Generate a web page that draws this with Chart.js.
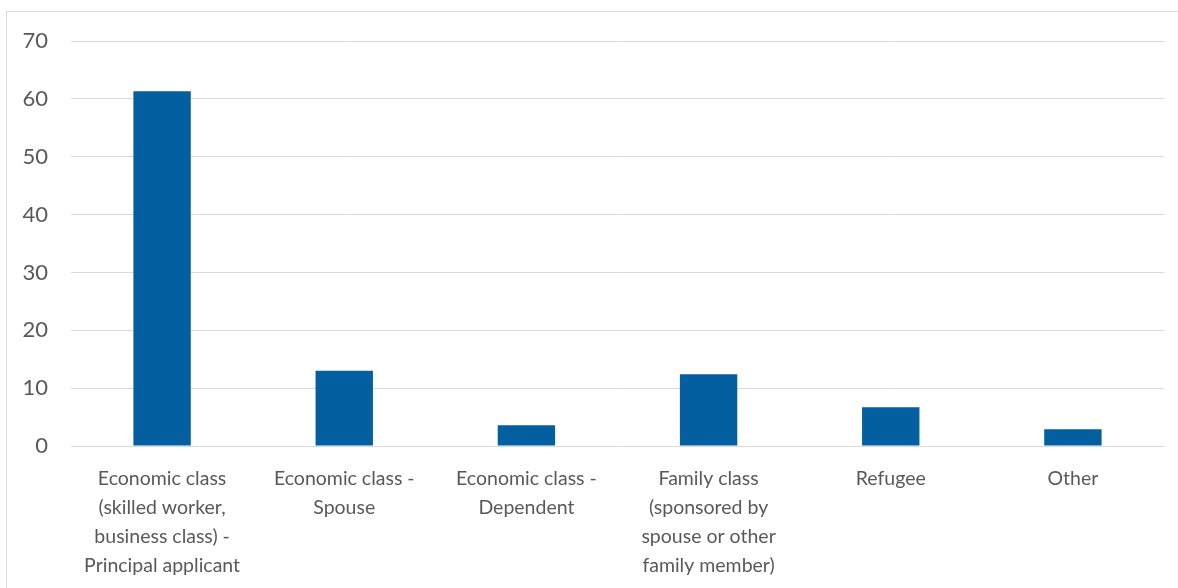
<!DOCTYPE html>
<html>
<head>
<meta charset="utf-8">
<script src="https://cdn.jsdelivr.net/npm/chart.js@4/dist/chart.umd.min.js"></script>
<style>
  html, body { margin: 0; padding: 0; background: #fff; overflow: hidden; }
  .frame { position: absolute; left: 6px; top: 11px; width: 1200px; height: 600px; border: 1px solid #d9d9d9; box-sizing: border-box; }
  .wrap { position: absolute; left: 0; top: 0; width: 1178px; height: 588px; }
</style>
</head>
<body>
<div class="frame"></div>
<div class="wrap"><canvas id="chart"></canvas></div>
<script>
const categories = [
  ['Economic class', '(skilled worker,', 'business class) -', 'Principal applicant'],
  ['Economic class -', 'Spouse'],
  ['Economic class -', 'Dependent'],
  ['Family class', '(sponsored by', 'spouse or other', 'family member)'],
  'Refugee',
  'Other'
];
const shares = [61.3, 13.0, 3.6, 12.4, 6.7, 2.9];
const yTicks = [0, 10, 20, 30, 40, 50, 60, 70];

const BAR_BLUE = '#035FA0';
const GRID = '#d9d9d9';
const LABEL = '#595959';

const ctx = document.getElementById('chart').getContext('2d');
new Chart(ctx, {
  type: 'bar',
  data: {
    labels: categories,
    datasets: [{
      data: shares,
      backgroundColor: BAR_BLUE,
      categoryPercentage: 1,
      barPercentage: 0.315
    }]
  },
  options: {
    responsive: true,
    maintainAspectRatio: false,
    animation: false,
    layout: { padding: { top: 41, right: 14, left: 0, bottom: 0 } },
    plugins: { legend: { display: false }, tooltip: { enabled: false } },
    scales: {
      x: {
        grid: { display: false },
        border: { display: false },
        ticks: {
          color: LABEL,
          font: { family: 'Lato', size: 19.5, lineHeight: 1.49 },
          padding: 10,
          maxRotation: 0,
          autoSkip: false
        },
        afterFit: (s) => { s.height = 142; }
      },
      y: {
        min: 0,
        max: 70,
        afterBuildTicks: (s) => { s.ticks = yTicks.map((v) => ({ value: v })); },
        grid: { color: GRID, lineWidth: 1, drawTicks: false },
        border: { display: false },
        ticks: {
          color: LABEL,
          font: { family: 'Lato', size: 22 },
          padding: 23
        },
        afterFit: (s) => { s.width = 71; }
      }
    }
  }
});
</script>
</body>
</html>
